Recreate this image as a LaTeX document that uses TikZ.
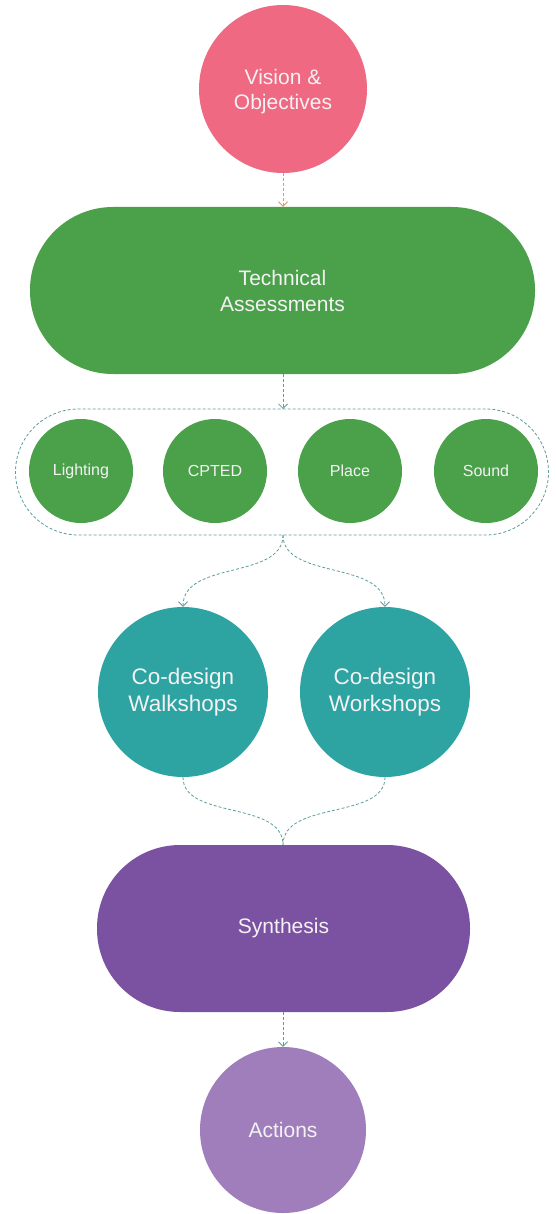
\documentclass[tikz,border=0pt]{standalone}
\usepackage{fontspec}
\setmainfont{Liberation Sans}
\usetikzlibrary{arrows.meta}
\definecolor{cpink}{HTML}{EE6981}
\definecolor{cgreen}{HTML}{4AA14A}
\definecolor{cteal}{HTML}{2EA4A2}
\definecolor{cpurple}{HTML}{7B52A2}
\definecolor{clav}{HTML}{A07EBB}
\definecolor{corange}{HTML}{D49A6A}
\definecolor{cline}{HTML}{5E9C9C}
\definecolor{ctext}{HTML}{F4F2F4}
\tikzset{
  bigcirc/.style={circle, fill=#1, minimum size=168pt, inner sep=0pt, text=ctext, align=center, font=\fontsize{21}{25}\selectfont},
  smallcirc/.style={circle, fill=cgreen, minimum size=104pt, inner sep=0pt, text=ctext, font=\fontsize{16}{19}\selectfont},
  stadium/.style={rectangle, fill=#1, rounded corners=83pt, minimum height=166pt, inner sep=0pt, text=ctext, align=center, font=\fontsize{21}{26}\selectfont},
  conn/.style={densely dashed, line width=0.8pt, color=cline},
  arr/.style={conn, -{Straight Barb[length=4.5pt,width=9pt]}}
}
\begin{document}
\begin{tikzpicture}[x=1pt,y=-1pt]
\useasboundingbox (0,0) rectangle (555,1214);
\node[bigcirc=cpink, text depth=-3pt] (vision) at (283,89) {Vision \&\\Objectives};
\node[stadium=cgreen, minimum width=505pt, minimum height=167pt] (tech) at (282.5,290.5) {Technical\\Assessments};
\node[draw=cline, densely dashed, line width=0.8pt, rectangle, rounded corners=63pt, minimum width=533pt, minimum height=126pt, inner sep=0pt] (group) at (282,472) {};
\node[smallcirc] (light) at (81,471) {Lighting};
\node[smallcirc] (cpted) at (215,471) {CPTED};
\node[smallcirc] (place) at (350,471) {Place};
\node[smallcirc] (sound) at (486,471) {Sound};
\node[bigcirc=cteal, minimum size=170pt, font=\fontsize{22.5}{27}\selectfont] (walk) at (183,692) {Co-design\\Walkshops};
\node[bigcirc=cteal, minimum size=170pt, font=\fontsize{22.5}{27}\selectfont] (work) at (385,692) {Co-design\\Workshops};
\node[stadium=cpurple, minimum width=373pt, minimum height=167pt] (syn) at (283.5,928.5) {Synthesis};
\node[bigcirc=clav, minimum size=166pt] (act) at (283,1130) {Actions};
\coordinate (gs) at (283,535);
\coordinate (gn) at (283,409);
\coordinate (sn) at (283,845);
\draw[arr, color=corange] (vision.south) -- (vision.south |- tech.north);
\draw[arr] (tech.south -| gn) -- (gn);
\draw[arr] (gs) .. controls (283,580) and (183,560) .. (walk.north);
\draw[arr] (gs) .. controls (283,580) and (385,560) .. (work.north);
\draw[conn] (walk.south) .. controls (183,820) and (283,800) .. (sn);
\draw[conn] (work.south) .. controls (385,820) and (283,800) .. (sn);
\draw[arr] (syn.south -| act.north) -- (act.north);
\end{tikzpicture}
\end{document}
